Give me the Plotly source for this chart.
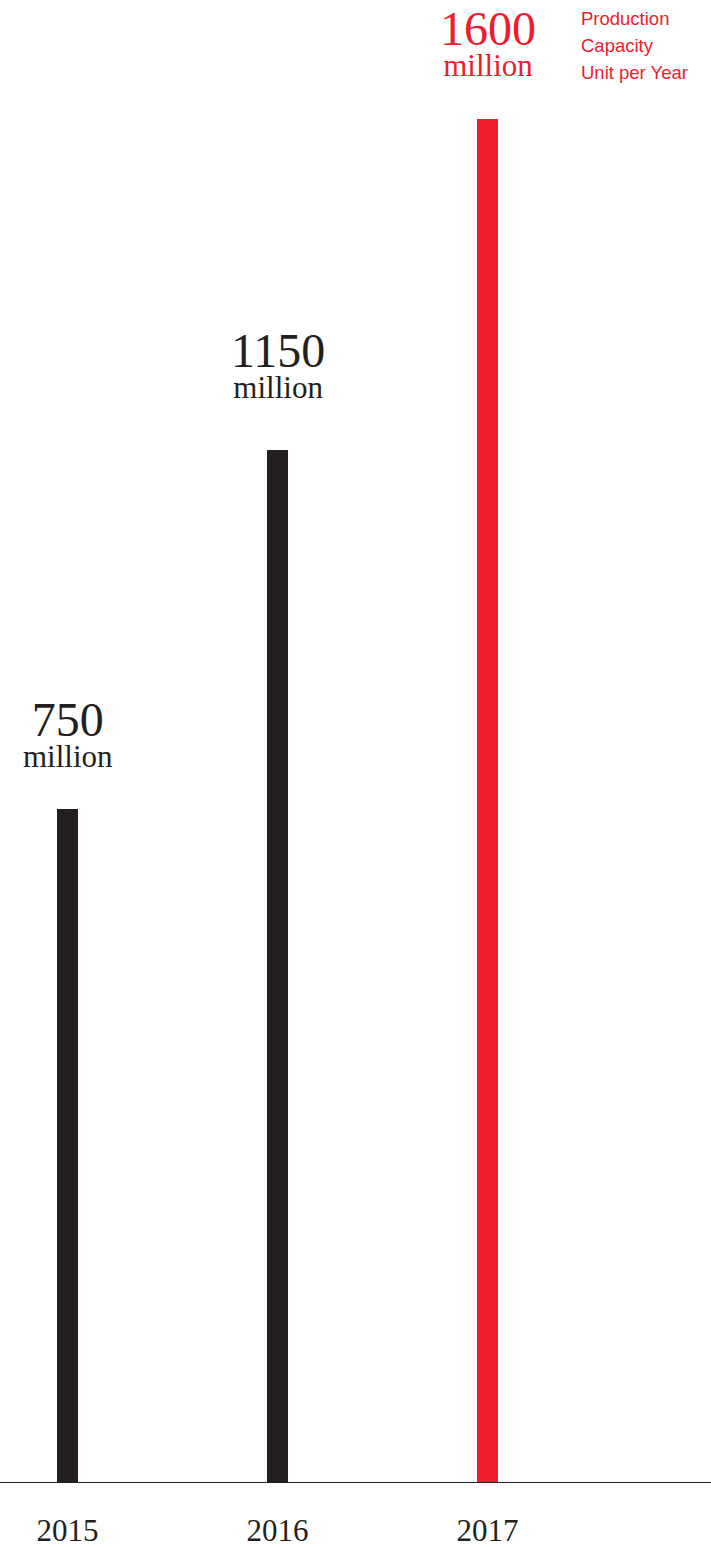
import plotly.graph_objects as go

# ---- data ----
years = ["2015", "2016", "2017"]
bar_heights = [750, 1150, 1519]          # drawn bar heights (same scale as 750/1150)
value_labels = ["750", "1150", "1600"]   # printed labels
unit_label = "million"
legend_lines = ["Production", "Capacity", "Unit per Year"]

# ---- style ----
BLACK = "#231F20"
RED = "#ED1C2E"
bar_colors = [BLACK, BLACK, RED]
label_gap = {"2015": 41, "2016": 51, "2017": 42}   # px from bar top to "million" baseline
SERIF = "Liberation Serif, Times New Roman, serif"
SANS = "Liberation Sans, Arial, Helvetica, sans-serif"

W, H = 711, 1547
PLOT_BOTTOM = 65
plot_h = H - PLOT_BOTTOM
YMAX = 1651.6
XMIN, XMAX = -0.3214, 3.064

fig = go.Figure()
fig.add_trace(go.Bar(
    x=years, y=bar_heights, width=0.1,
    marker=dict(color=bar_colors, line=dict(width=0)),
    hoverinfo="skip", showlegend=False,
))

annotations = []
for i, (yr, h, lab, col) in enumerate(zip(years, bar_heights, value_labels, bar_colors)):
    gap = label_gap[yr]
    text = (f"<span style='font-size:48px'>{lab}</span><br>"
            f"<span style='font-size:31px'>{unit_label}</span>")
    annotations.append(dict(
        x=i, y=h, xref="x", yref="y", text=text, showarrow=False,
        xanchor="center", yanchor="bottom", yshift=gap - 8,
        font=dict(family=SERIF, size=24, color=col),
    ))

for i, line in enumerate(legend_lines):
    annotations.append(dict(
        x=579 / W, y=1 - (24 + 27 * i) / plot_h, xref="paper", yref="paper",
        text=line, showarrow=False, xanchor="left", yanchor="bottom", yshift=-7,
        font=dict(family=SANS, size=18.5, color=RED),
    ))

fig.update_layout(
    width=W, height=H,
    margin=dict(l=0, r=0, t=0, b=PLOT_BOTTOM, pad=0),
    paper_bgcolor="white", plot_bgcolor="white",
    annotations=annotations,
    bargap=0,
    xaxis=dict(
        type="category", range=[XMIN, XMAX],
        showline=True, linecolor=BLACK, linewidth=1.3,
        showgrid=False, zeroline=False,
        ticks="outside", ticklen=20, tickcolor="rgba(0,0,0,0)",
        tickfont=dict(family=SERIF, size=31, color=BLACK),
    ),
    yaxis=dict(
        range=[0, YMAX], visible=False, showgrid=False, zeroline=False,
    ),
)

fig.write_html(
    "out.html",
    config={"displayModeBar": False, "staticPlot": True},
    post_script="document.body.style.margin='0';document.body.style.padding='0';",
)
